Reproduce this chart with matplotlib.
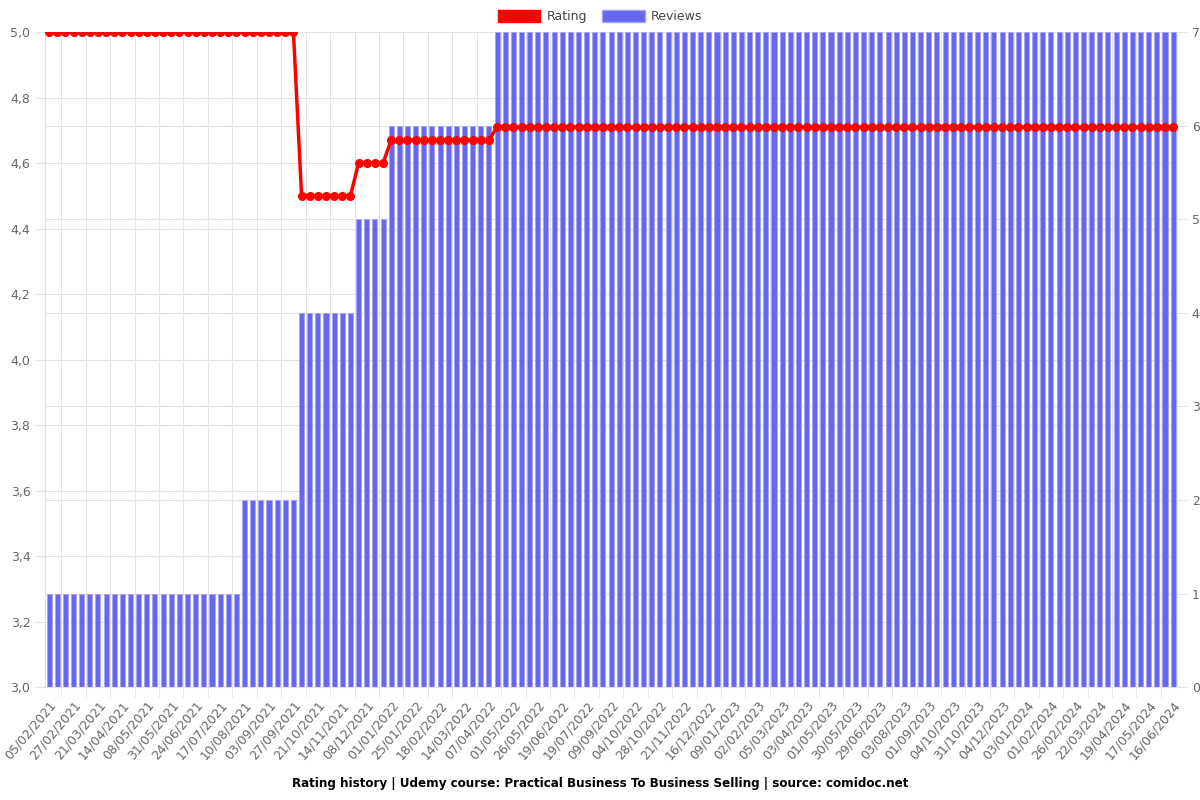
"""
Rating history chart (Udemy course, comidoc.net)
"""

import numpy as np
import matplotlib.pyplot as plt
from matplotlib.patches import Patch
from matplotlib.ticker import FuncFormatter

# Visible date labels (every 3rd bar is labelled)
tick_labels = [
    "05/02/2021", "27/02/2021", "21/03/2021", "14/04/2021", "08/05/2021",
    "31/05/2021", "24/06/2021", "17/07/2021", "10/08/2021", "03/09/2021",
    "27/09/2021", "21/10/2021", "14/11/2021", "08/12/2021", "01/01/2022",
    "25/01/2022", "18/02/2022", "14/03/2022", "07/04/2022", "01/05/2022",
    "26/05/2022", "19/06/2022", "19/07/2022", "09/09/2022", "04/10/2022",
    "28/10/2022", "21/11/2022", "16/12/2022", "09/01/2023", "02/02/2023",
    "05/03/2023", "03/04/2023", "01/05/2023", "30/05/2023", "29/06/2023",
    "03/08/2023", "01/09/2023", "04/10/2023", "31/10/2023", "04/12/2023",
    "03/01/2024", "01/02/2024", "26/02/2024", "22/03/2024", "19/04/2024",
    "17/05/2024", "16/06/2024",
]

# Number of reviews per bar
reviews = [1] * 24 + [2] * 7 + [4] * 7 + [5] * 4 + [6] * 13 + [7] * 84

# Average rating per point
rating = [5.0] * 31 + [4.5] * 7 + [4.6] * 4 + [4.67] * 13 + [4.71] * 84

TITLE = ("Rating history | Udemy course: Practical Business To Business Selling"
         " | source: comidoc.net")


def main():
    grid_col = "#e2e2e2"
    text_col = "#666666"
    n = len(reviews)
    x = np.arange(n)

    fig = plt.figure(figsize=(12, 8), dpi=100)
    ax = fig.add_axes([0.0375, 0.141, 0.9435, 0.819])
    ax2 = ax.twinx()

    # line axes drawn on top of the bars
    ax.set_zorder(ax2.get_zorder() + 1)
    ax.patch.set_visible(False)

    # Reviews bars (right axis)
    ax2.bar(x, reviews, width=0.62, color="#6666ee", edgecolor="#a3a3f4",
            linewidth=0.5, zorder=2)
    ax2.set_ylim(0, 7)
    ax2.set_yticks(range(0, 8))

    # Rating line (left axis)
    ax.plot(x, rating, color="#ff0000", linewidth=2.5, marker="o",
            markersize=5.5, zorder=3)
    ax.set_ylim(3.0, 5.0)
    left_ticks = np.round(np.arange(3.0, 5.01, 0.2), 1)
    ax.set_yticks(left_ticks)
    ax.yaxis.set_major_formatter(FuncFormatter(lambda v, p: f"{v:.1f}".replace(".", ",")))

    # Grids behind the bars: right-axis lines, left-axis lines mapped to right scale
    for v in range(0, 8):
        ax2.axhline(v, color=grid_col, linewidth=0.8, zorder=0)
    for v in left_ticks:
        ax2.axhline((v - 3.0) / 2.0 * 7, color=grid_col, linewidth=0.8, zorder=0)
    label_pos = np.arange(0, n, 3)
    for g in label_pos[:-1] + 1.5:
        ax2.axvline(g, color=grid_col, linewidth=0.8, zorder=0)

    # X axis
    ax.set_xlim(-0.5, n - 0.5)
    ax.set_xticks(label_pos)
    ax.set_xticklabels(tick_labels, rotation=50, ha="right",
                       rotation_mode="anchor", fontsize=9, color=text_col)
    ax.set_xticks(label_pos[:-1] + 1.5, minor=True)
    ax.tick_params(axis="x", which="major", length=0, pad=8)
    ax.tick_params(axis="x", which="minor", length=7, color=grid_col)

    ax.tick_params(axis="y", labelsize=9, labelcolor=text_col, length=7,
                   color=grid_col)
    ax2.tick_params(axis="y", labelsize=9, labelcolor=text_col, length=7,
                    color=grid_col)
    ax2.tick_params(axis="x", length=0)

    for a in (ax, ax2):
        for s in a.spines.values():
            s.set_color(grid_col)
        a.spines["top"].set_visible(False)

    # Legend
    handles = [Patch(facecolor="#ff0000", edgecolor="#ff0000", label="Rating"),
               Patch(facecolor="#6666ee", edgecolor="#a3a3f4", label="Reviews")]
    fig.legend(handles=handles, loc="upper center", bbox_to_anchor=(0.5, 1.002),
               ncol=2, frameon=False, fontsize=9, handlelength=3.4,
               handleheight=1.1, columnspacing=1.2, handletextpad=0.5,
               labelcolor="#444444")

    fig.text(0.5, 0.016, TITLE, ha="center", fontsize=9.5, fontweight="bold",
             family="DejaVu Sans", fontstretch="condensed")

    fig.savefig("out.png", dpi=100)


if __name__ == "__main__":
    main()
